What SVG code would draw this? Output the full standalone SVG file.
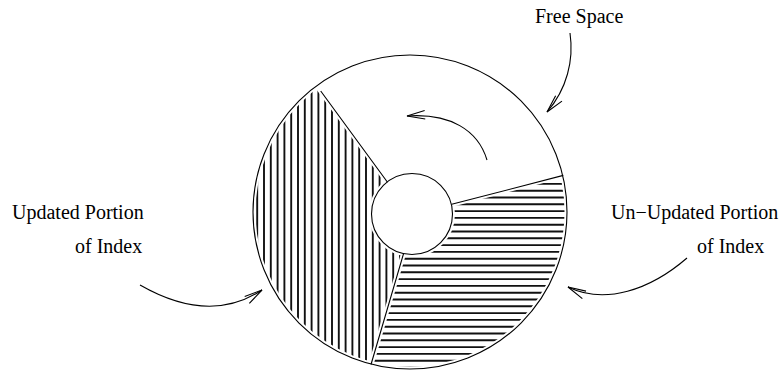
<svg xmlns="http://www.w3.org/2000/svg" width="782" height="375" viewBox="0 0 782 375">
  <style>
    .lbl { font-family: "Liberation Serif", "Times New Roman", serif; font-size: 20px; fill: #000; }
    .hatch { stroke: #111; stroke-width: 1.9; fill: none; }
    .halo { stroke: #fff; stroke-width: 5; fill: none; }
    .edge { stroke: #000; stroke-width: 1.1; fill: none; }
    .conn { stroke: #000; stroke-width: 1.1; fill: none; marker-end: url(#arr); }
  </style>
  <defs>
    <marker id="arr" markerUnits="userSpaceOnUse" markerWidth="24" markerHeight="14" viewBox="-20 -7 24 14" refX="0" refY="0" orient="auto">
      <path d="M-18,-4.2 L0,0 L-18,4.2" fill="none" stroke="#000" stroke-width="1.1"/>
    </marker>
    <clipPath id="clipLeft">
      <path d="M387.5,182.3 L316.8,85.7 A157,157 0 0 0 371,364.5 L403.5,253.8 A40.5,40.5 0 0 1 387.5,182.3 Z"/>
    </clipPath>
    <clipPath id="clipRight">
      <path d="M451.7,204.3 L563.3,175.4 A157,157 0 0 1 371,364.5 L403.5,253.8 A40.5,40.5 0 0 0 451.7,204.3 Z"/>
    </clipPath>
  </defs>

  <rect width="782" height="375" fill="#fff"/>

  <g id="disk">
    <g id="updated-sector" clip-path="url(#clipLeft)">
      <path class="hatch" d="M257.2,50V375 M264,50V375 M270.8,50V375 M277.6,50V375 M284.4,50V375 M291.2,50V375 M298,50V375 M304.8,50V375 M311.6,50V375 M318.4,50V375 M325.2,50V375 M332,50V375 M338.8,50V375 M345.6,50V375 M352.4,50V375 M359.2,50V375 M366,50V375 M372.8,50V375 M379.6,50V375 M386.4,50V375 M393.2,50V375 M400,50V375"/>
    </g>
    <g id="unupdated-sector" clip-path="url(#clipRight)">
      <path class="hatch" d="M360,170.3H575 M360,177.1H575 M360,183.9H575 M360,190.7H575 M360,197.5H575 M360,204.3H575 M360,211.1H575 M360,217.9H575 M360,224.7H575 M360,231.5H575 M360,238.3H575 M360,245.1H575 M360,251.9H575 M360,258.7H575 M360,265.5H575 M360,272.3H575 M360,279.1H575 M360,285.9H575 M360,292.7H575 M360,299.5H575 M360,306.3H575 M360,313.1H575 M360,319.9H575 M360,326.7H575 M360,333.5H575 M360,340.3H575 M360,347.1H575 M360,353.9H575 M360,360.7H575 M360,367.5H575"/>
    </g>
    <g id="halos">
      <circle class="halo" cx="410" cy="212" r="157"/>
      <circle class="halo" cx="412" cy="214" r="40.5"/>
      <path class="halo" d="M387.5,182.3 L316.8,85.7 M451.7,204.3 L563.3,175.4 M403.5,253.8 L371,364.5"/>
    </g>
    <g id="outline">
      <circle class="edge" cx="410" cy="212" r="157"/>
      <circle class="edge" cx="412" cy="214" r="40.5" fill="#fff"/>
      <path class="edge" d="M387.5,182.3 L320.7,91 M451.7,204.3 L563.3,175.4 M403.5,253.8 L371,364.5"/>
    </g>
  </g>

  <g id="label-free-space">
    <text class="lbl" x="535" y="23">Free Space</text>
  </g>
  <g id="label-updated">
    <text class="lbl" x="12" y="219">Updated Portion</text>
    <text class="lbl" x="75" y="253">of Index</text>
  </g>
  <g id="label-unupdated">
    <text class="lbl" x="611" y="219">Un−Updated Portion</text>
    <text class="lbl" x="697" y="253">of Index</text>
  </g>

  <g id="connectors">
    <path class="conn" d="M570,33 C574,60 567,89 547,112"/>
    <path class="conn" d="M487,160 C478,130 450,113 407,116"/>
    <path class="conn" d="M140,285 C175,305 220,318 262,290"/>
    <path class="conn" d="M687,258 C650,290 605,305 568,287"/>
  </g>
</svg>
